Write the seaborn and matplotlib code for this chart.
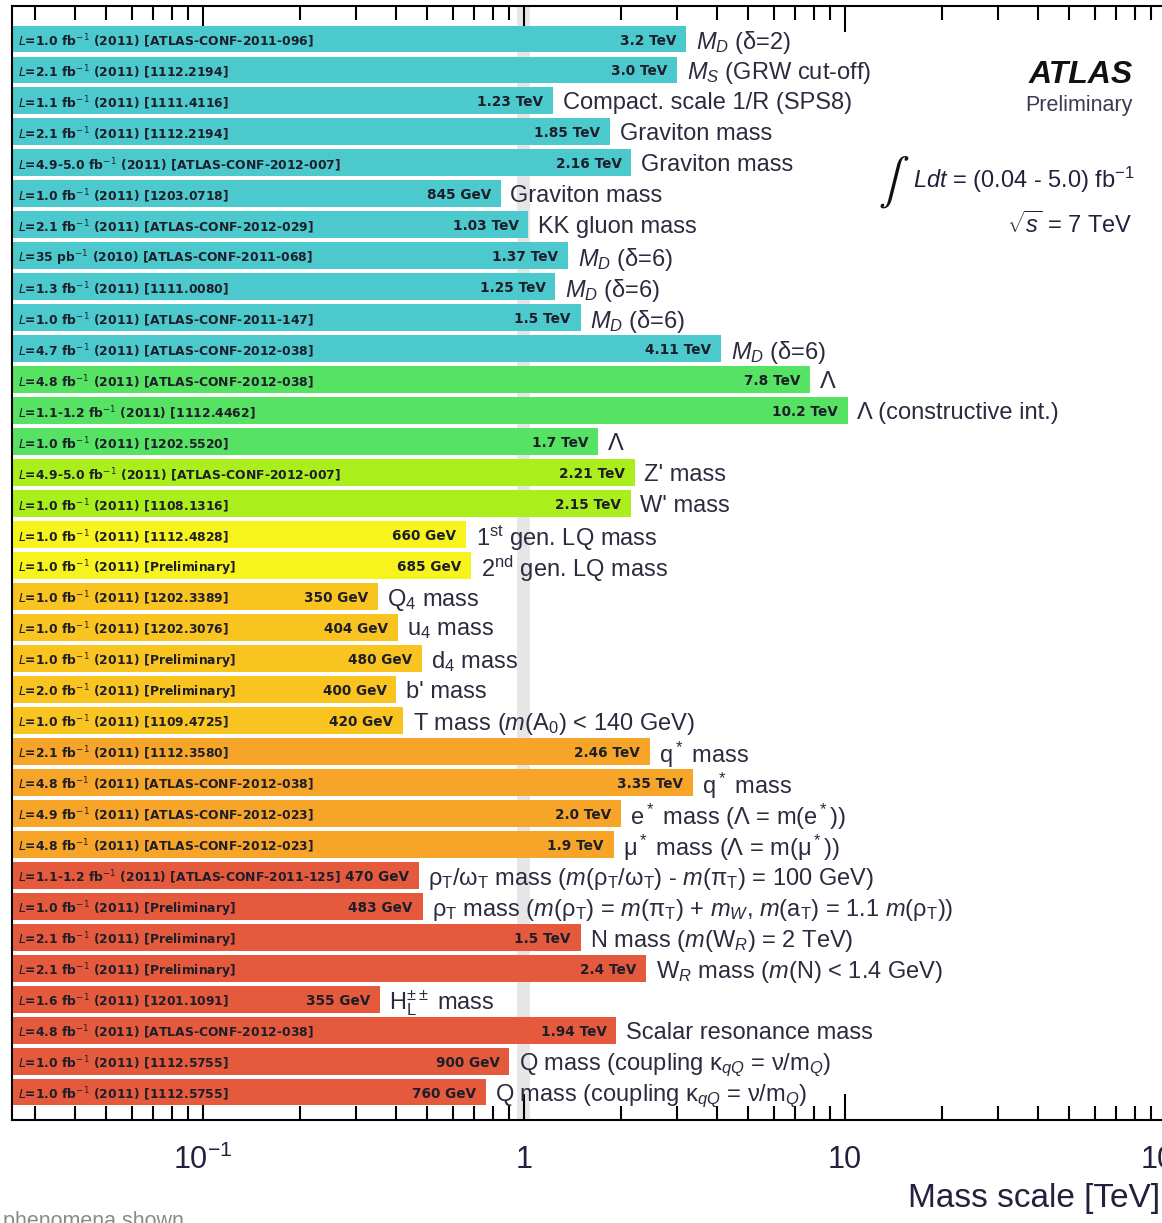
import numpy as np
import pandas as pd
import matplotlib
matplotlib.use("Agg")
import matplotlib.pyplot as plt
import matplotlib.transforms as mtransforms
from matplotlib.ticker import LogLocator, NullFormatter
import seaborn as sns

# ---------------- data ----------------
lumi_refs = [
    "L=1.0 fb-1 (2011) [ATLAS-CONF-2011-096]",
    "L=2.1 fb-1 (2011) [1112.2194]",
    "L=1.1 fb-1 (2011) [1111.4116]",
    "L=2.1 fb-1 (2011) [1112.2194]",
    "L=4.9-5.0 fb-1 (2011) [ATLAS-CONF-2012-007]",
    "L=1.0 fb-1 (2011) [1203.0718]",
    "L=2.1 fb-1 (2011) [ATLAS-CONF-2012-029]",
    "L=35 pb-1 (2010) [ATLAS-CONF-2011-068]",
    "L=1.3 fb-1 (2011) [1111.0080]",
    "L=1.0 fb-1 (2011) [ATLAS-CONF-2011-147]",
    "L=4.7 fb-1 (2011) [ATLAS-CONF-2012-038]",
    "L=4.8 fb-1 (2011) [ATLAS-CONF-2012-038]",
    "L=1.1-1.2 fb-1 (2011) [1112.4462]",
    "L=1.0 fb-1 (2011) [1202.5520]",
    "L=4.9-5.0 fb-1 (2011) [ATLAS-CONF-2012-007]",
    "L=1.0 fb-1 (2011) [1108.1316]",
    "L=1.0 fb-1 (2011) [1112.4828]",
    "L=1.0 fb-1 (2011) [Preliminary]",
    "L=1.0 fb-1 (2011) [1202.3389]",
    "L=1.0 fb-1 (2011) [1202.3076]",
    "L=1.0 fb-1 (2011) [Preliminary]",
    "L=2.0 fb-1 (2011) [Preliminary]",
    "L=1.0 fb-1 (2011) [1109.4725]",
    "L=2.1 fb-1 (2011) [1112.3580]",
    "L=4.8 fb-1 (2011) [ATLAS-CONF-2012-038]",
    "L=4.9 fb-1 (2011) [ATLAS-CONF-2012-023]",
    "L=4.8 fb-1 (2011) [ATLAS-CONF-2012-023]",
    "L=1.1-1.2 fb-1 (2011) [ATLAS-CONF-2011-125]",
    "L=1.0 fb-1 (2011) [Preliminary]",
    "L=2.1 fb-1 (2011) [Preliminary]",
    "L=2.1 fb-1 (2011) [Preliminary]",
    "L=1.6 fb-1 (2011) [1201.1091]",
    "L=4.8 fb-1 (2011) [ATLAS-CONF-2012-038]",
    "L=1.0 fb-1 (2011) [1112.5755]",
    "L=1.0 fb-1 (2011) [1112.5755]",
]

mass_tev = [3.2, 3.0, 1.23, 1.85, 2.16, 0.845, 1.03, 1.37, 1.25, 1.5, 4.11,
            7.8, 10.2, 1.7,
            2.21, 2.15,
            0.660, 0.685,
            0.350, 0.404, 0.480, 0.400, 0.420,
            2.46, 3.35, 2.0, 1.9,
            0.470, 0.483, 1.5, 2.4, 0.355, 1.94, 0.900, 0.760]

mass_text = ["3.2 TeV", "3.0 TeV", "1.23 TeV", "1.85 TeV", "2.16 TeV", "845 GeV",
             "1.03 TeV", "1.37 TeV", "1.25 TeV", "1.5 TeV", "4.11 TeV",
             "7.8 TeV", "10.2 TeV", "1.7 TeV",
             "2.21 TeV", "2.15 TeV",
             "660 GeV", "685 GeV",
             "350 GeV", "404 GeV", "480 GeV", "400 GeV", "420 GeV",
             "2.46 TeV", "3.35 TeV", "2.0 TeV", "1.9 TeV",
             "470 GeV", "483 GeV", "1.5 TeV", "2.4 TeV", "355 GeV", "1.94 TeV",
             "900 GeV", "760 GeV"]

descriptions = [
    r"$M_D$ (δ=2)",
    r"$M_S$ (GRW cut-off)",
    "Compact. scale 1/R (SPS8)",
    "Graviton mass",
    "Graviton mass",
    "Graviton mass",
    "KK gluon mass",
    r"$M_D$ (δ=6)",
    r"$M_D$ (δ=6)",
    r"$M_D$ (δ=6)",
    r"$M_D$ (δ=6)",
    "Λ",
    "Λ (constructive int.)",
    "Λ",
    "Z' mass",
    "W' mass",
    r"1$^{\mathrm{st}}$ gen. LQ mass",
    r"2$^{\mathrm{nd}}$ gen. LQ mass",
    r"Q$_4$ mass",
    r"u$_4$ mass",
    r"d$_4$ mass",
    "b' mass",
    r"T mass ($m$(A$_0$) < 140 GeV)",
    r"q$^*$ mass",
    r"q$^*$ mass",
    r"e$^*$ mass (Λ = m(e$^*$))",
    r"μ$^*$ mass (Λ = m(μ$^*$))",
    r"ρ$_\mathrm{T}$/ω$_\mathrm{T}$ mass ($m$(ρ$_\mathrm{T}$/ω$_\mathrm{T}$) - $m$(π$_\mathrm{T}$) = 100 GeV)",
    r"ρ$_\mathrm{T}$ mass ($m$(ρ$_\mathrm{T}$) = $m$(π$_\mathrm{T}$) + $m_W$, $m$(a$_\mathrm{T}$) = 1.1 $m$(ρ$_\mathrm{T}$))",
    r"N mass ($m$(W$_R$) = 2 TeV)",
    r"W$_R$ mass ($m$(N) < 1.4 GeV)",
    r"H$_\mathrm{L}^{\pm\pm}$ mass",
    "Scalar resonance mass",
    r"Q mass (coupling κ$_{qQ}$ = ν/m$_Q$)",
    r"Q mass (coupling κ$_{qQ}$ = ν/m$_Q$)",
]

groups = (["Extra dimensions"] * 11 + ["Contact interactions"] * 3 +
          ["New gauge bosons"] * 2 + ["Leptoquarks"] * 2 +
          ["New quarks"] * 5 + ["Excited fermions"] * 4 + ["Other"] * 8)

group_colors = {
    "Extra dimensions": "#4BC9CD",
    "Contact interactions": "#56E262",
    "New gauge bosons": "#AAEF1B",
    "Leptoquarks": "#F7F41D",
    "New quarks": "#F9C420",
    "Excited fermions": "#F7A529",
    "Other": "#E55A3D",
}

x_ticks = [0.1, 1, 10, 100]
x_ticklabels = [r"$10^{-1}$", "1", "10", "100"]

# ---------------- style ----------------
sns.set_style("ticks")
plt.rcParams["font.family"] = ["Liberation Sans", "DejaVu Sans"]
plt.rcParams["mathtext.fontset"] = "custom"
plt.rcParams["mathtext.rm"] = "Liberation Sans"
plt.rcParams["mathtext.it"] = "Liberation Sans:italic"
plt.rcParams["mathtext.bf"] = "Liberation Sans:bold"

W, H = 1162, 1223
fig = plt.figure(figsize=(W / 100, H / 100), dpi=100)
ax_left, ax_right, ax_top, ax_bot = 12, 1166, 6, 1120
ax = fig.add_axes([ax_left / W, 1 - ax_bot / H, (ax_right - ax_left) / W, (ax_bot - ax_top) / H])

row_ids = [f"r{i:02d}" for i in range(len(mass_tev))]
df = pd.DataFrame({"row": row_ids, "mass": mass_tev, "group": groups})

sns.barplot(data=df, x="mass", y="row", hue="group", order=row_ids,
            hue_order=list(group_colors.keys()), palette=group_colors,
            dodge=False, width=0.87, orient="h", saturation=1,
            legend=False, linewidth=0, ax=ax)
ax.set_xscale("log", nonpositive="clip")
for p in ax.patches:
    p.set_zorder(2)

ax.axvspan(0.951, 1.044, color="#e6e6e6", lw=0, zorder=0)

ax.set_xlim(0.0254, 100)
ax.set_ylim(len(mass_tev) - 1 + 0.904, -1.066)
ax.set_xlabel("")
ax.set_ylabel("")
ax.set_yticks([])

ax.set_xticks(x_ticks)
ax.set_xticklabels(x_ticklabels)
ax.xaxis.set_minor_locator(LogLocator(base=10, subs=np.arange(2, 10) * 1.0, numticks=30))
ax.xaxis.set_minor_formatter(NullFormatter())
ax.tick_params(axis="x", which="both", direction="in", top=True, bottom=True,
               width=1.5, color="black")
ax.tick_params(axis="x", which="major", length=19, labelsize=22, pad=18,
               labelcolor="#22223f")
ax.tick_params(axis="x", which="minor", length=10)
for s in ax.spines.values():
    s.set_linewidth(1.5)
    s.set_color("black")

blend = mtransforms.blended_transform_factory(ax.transAxes, ax.transData)
for i, (v, vt, desc, lab) in enumerate(zip(mass_tev, mass_text, descriptions, lumi_refs)):
    lab_m = lab.replace("L=", "$L$=").replace("b-1", "b$^{-1}$")
    ax.text(6 / (ax_right - ax_left), i, lab_m, transform=blend, ha="left",
            va="center_baseline", fontsize=8.9, fontweight="bold",
            family="DejaVu Sans", math_fontfamily="dejavusans", color="#1e1e2a", zorder=5)
    ax.annotate(vt, xy=(v, i), xytext=(-7, 0), textcoords="offset points",
                ha="right", va="center_baseline", fontsize=9.8, fontweight="bold",
                family="DejaVu Sans", color="#1e1e2a", zorder=5)
    ax.annotate(desc, xy=(v, i), xytext=(7, 0), textcoords="offset points",
                ha="left", va="center_baseline", fontsize=17, color="#2b2b3f",
                zorder=5, annotation_clip=False)

# ---------------- annotations ----------------
fig.text(1133 / W, 1 - 75 / H, "ATLAS", ha="right", va="center", fontsize=23,
         fontweight="bold", style="italic", color="#111111")
fig.text(1133 / W, 1 - 105 / H, "Preliminary", ha="right", va="center",
         fontsize=15.5, color="#3a3a55")
fig.text(878 / W, 1 - 182 / H, r"$\int$", ha="left", va="center", fontsize=33,
         math_fontfamily="stix", color="#111111")
fig.text(1135 / W, 1 - 180 / H, r"$Ldt$ = (0.04 - 5.0) fb$^{-1}$", ha="right",
         va="center", fontsize=17, color="#22223f")
fig.text(1133 / W, 1 - 225 / H, r"$\sqrt{s}$ = 7 TeV", ha="right", va="center",
         fontsize=17, color="#22223f")

fig.text(1160 / W, 1 - 1198 / H, "Mass scale [TeV]", ha="right", va="center",
         fontsize=24, color="#22223f")
fig.text(3 / W, 1 - 1211 / H, "phenomena shown", ha="left", va="top",
         fontsize=15.5, color="#8a8a8a")

fig.savefig("out.png", dpi=100)
